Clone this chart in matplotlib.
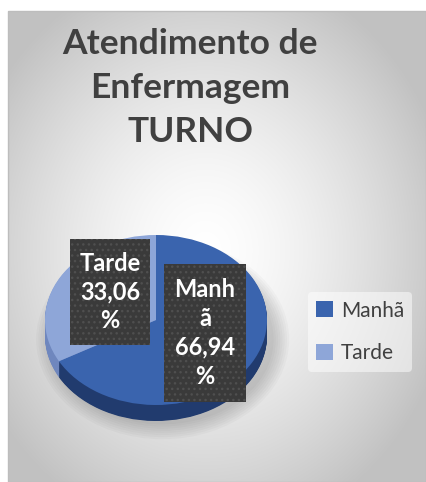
import numpy as np
import matplotlib.pyplot as plt
from matplotlib.patches import Rectangle, Ellipse

# data
labels = ['Manhã', 'Tarde']
values = [66.94, 33.06]
box_names = ['Manh\nã', 'Tarde']
title = 'Atendimento de\nEnfermagem\nTURNO'

top_colors = ['#3A64AE', '#8EA6D8']
side_colors = ['#213B6E', '#6F87BE']

W, H = 426, 482
fig = plt.figure(figsize=(W / 100, H / 100), dpi=100)
fig.patch.set_facecolor('white')

# background panel with a soft radial gradient (pixel coordinates)
bg = fig.add_axes([0, 0, 1, 1])
bg.set_xlim(0, W)
bg.set_ylim(H, 0)
bg.axis('off')
x0, y0 = 8, 11
yy, xx = np.mgrid[y0:H, x0:W]
d = np.hypot((xx - 205) / 250.0, (yy - 250) / 290.0)
g = 1 - 0.24 * np.clip(d, 0, 1) ** 1.5
bg.imshow(np.dstack([g, g, g]), extent=(x0, W, H, y0), aspect='auto',
          interpolation='bilinear', zorder=0)
bg.add_patch(Rectangle((x0, y0), W - x0, H - y0, fill=False,
                       edgecolor='#bdbdbd', linewidth=1, zorder=1))

# pie axes: unit circle squashed into an ellipse to fake the 3D tilt
cx, cy, rx, ry = 156, 320, 111, 85
depth = 16 / ry
ax = fig.add_axes([0, 0, 1, 1])
ax.patch.set_alpha(0)

# soft shadow under the pie
for k in range(8):
    ax.add_patch(Ellipse((0.06, -depth - 0.04), 2.0 + 0.04 * k, 2.0 + 0.05 * k,
                         facecolor='black', alpha=0.025, linewidth=0))

# side of the pie: stacked copies pushed downward
for off in np.linspace(depth, 0.01, 24):
    ax.pie(values, colors=side_colors, startangle=90, counterclock=False,
           center=(0, -off), wedgeprops=dict(linewidth=0))

wedges, _ = ax.pie(values, colors=top_colors, startangle=90, counterclock=False,
                   wedgeprops=dict(linewidth=0))

ax.set_aspect('auto')
ax.set_xlim((0 - cx) / rx, (W - cx) / rx)
ax.set_ylim((cy - H) / ry, cy / ry)
ax.axis('off')

# data labels in dark dotted boxes (pixel layout)
plt.rcParams['hatch.linewidth'] = 1.0
boxes = [(164, 264, 82, 138), (70, 239, 80, 106)]
for name, val, (bx, by, bw, bh) in zip(box_names, values, boxes):
    ax.add_patch(Rectangle((bx, by), bw, bh, transform=bg.transData,
                           facecolor='#3a3a3a', edgecolor='#4f4f4f',
                           hatch='...', linewidth=0, zorder=5))
    txt = f'{name}\n{val:.2f}\n%'.replace('.', ',')
    ax.text(bx + bw / 2, by + bh / 2, txt, transform=bg.transData,
            ha='center', va='center', color='white', fontsize=17,
            fontweight='bold', family='Lato', linespacing=1.3, zorder=6)

# title
fig.text(190 / W, 1 - 88 / H, title, ha='center', va='center',
         fontsize=25.5, fontweight='bold', family='Lato', color='#404040',
         linespacing=1.45)

# legend
leg = ax.legend(wedges, labels, loc='center',
                bbox_to_anchor=(304 / W, 1 - 377 / H, 112 / W, 90 / H),
                bbox_transform=fig.transFigure, frameon=True,
                handlelength=0.8, handleheight=0.8, handletextpad=0.4,
                labelspacing=1.1, prop=dict(family='Lato', size=15))
leg.get_frame().set_facecolor('white')
leg.get_frame().set_alpha(0.5)
leg.get_frame().set_linewidth(0)
for t in leg.get_texts():
    t.set_color('#404040')

fig.savefig('out.png', dpi=100)
